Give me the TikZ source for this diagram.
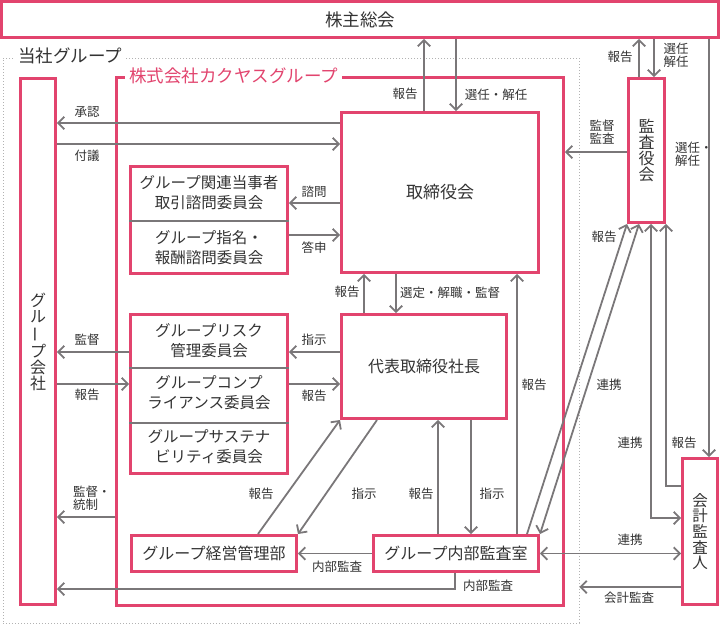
\documentclass[tikz,border=0pt]{standalone}
\usepackage{fontspec}
\setmainfont{Noto Sans CJK JP}
\usepackage{tikz}
\usetikzlibrary{arrows.meta,positioning,calc}
\definecolor{kPink}{RGB}{226,68,110}
\definecolor{kGray}{RGB}{122,119,121}
\definecolor{kText}{RGB}{51,51,51}
\newcommand{\vbar}{\rotatebox[origin=c]{90}{ー}}

\begin{document}
\begin{tikzpicture}[x=1pt, y=-1pt,
    box/.style={draw=kPink, line width=3pt, inner sep=0pt, text=kText, align=center},
    vbox/.style={box, font=\fontsize{16}{16}\selectfont},
    txt/.style={inner sep=0pt, text=kText, align=center, font=\fontsize{15.5}{20}\selectfont},
    lbl/.style={inner sep=0pt, text=kText, align=center, font=\fontsize{12.5}{13.5}\selectfont},
    arr/.style={draw=kGray, line width=1.8pt, -{Straight Barb[length=6pt,width=12.5pt]}},
    arrb/.style={arr, {Straight Barb[length=6pt,width=12.5pt]}-{Straight Barb[length=6pt,width=12.5pt]}},
    sep/.style={draw=kGray, line width=1.5pt}]
    \useasboundingbox (0,0) rectangle (720,625);

    % frames
    \node[draw=gray!60, dotted, line width=1pt, minimum width=576, minimum height=565, inner sep=0pt] (tousha) at (291,340.5) {};
    \node[fill=white, inner xsep=3pt, inner ysep=0pt, anchor=west, text=kText, font=\fontsize{17.5}{18}\selectfont] (tousha-l) at (15,56) {当社グループ};
    \node[box, minimum width=447, minimum height=528] (kakuyasu) at (340,341) {};
    \node[fill=white, inner xsep=4pt, inner ysep=0pt, anchor=west, text=kPink, font=\fontsize{17.5}{18}\selectfont] (kakuyasu-l) at (125,76) {株式会社カクヤスグループ};

    % boxes
    \node[box, minimum width=717, minimum height=36, font=\fontsize{17.5}{18}\selectfont] (soukai) at (360,19.5) {株主総会};
    \node[vbox, minimum width=35, minimum height=526] (kaisha) at (38,341.5) {グ\\ル\\\vbar\\プ\\会\\社};
    \node[box, minimum width=197, minimum height=160, font=\fontsize{17}{18}\selectfont] (torishimari) at (440,192.5) {取締役会};
    \node[box, minimum width=165, minimum height=104, font=\fontsize{16}{18}\selectfont] (shacho) at (424,366.5) {代表取締役社長};
    \node[box, minimum width=165, minimum height=36, font=\fontsize{16}{18}\selectfont] (keiei) at (214,553.5) {グループ経営管理部};
    \node[box, minimum width=165, minimum height=36, font=\fontsize{16}{18}\selectfont] (naibu) at (456,553.5) {グループ内部監査室};
    \node[vbox, minimum width=36, minimum height=144] (kansayaku) at (646.5,150.5) {監\\査\\役\\会};
    \node[vbox, minimum width=35, minimum height=146, font=\fontsize{15.5}{15.6}\selectfont] (kaikei) at (700,531.5) {会\\計\\監\\査\\人};

    % committees
    \node[box, minimum width=157, minimum height=107] (comA) at (209,220) {};
    \draw[sep] (comA.west |- 0,221) -- (comA.east |- 0,221);
    \node[txt] (kanren) at (209,193) {グループ関連当事者\\取引諮問委員会};
    \node[txt] (shimei) at (209,247.5) {グループ指名・\\報酬諮問委員会};
    \node[box, minimum width=157, minimum height=159] (comB) at (209,394) {};
    \draw[sep] (comB.west |- 0,368) -- (comB.east |- 0,368);
    \draw[sep] (comB.west |- 0,423) -- (comB.east |- 0,423);
    \node[txt] (risk) at (209,341) {グループリスク\\管理委員会};
    \node[txt] (compl) at (209,392.5) {グループコンプ\\ライアンス委員会};
    \node[txt] (sustain) at (209,447) {グループサステナ\\ビリティ委員会};

    % shareholders
    \draw[arr] (torishimari.north -| 424,0) -- (soukai.south -| 424,0);
    \node[lbl] (l-sh1) at (405,94) {報告};
    \draw[arr] (soukai.south -| 456,0) -- (torishimari.north -| 456,0);
    \node[lbl] (l-sh2) at (496,95) {選任・解任};
    \draw[arr] (kansayaku.north -| 639,0) -- (soukai.south -| 639,0);
    \node[lbl] (l-sh3) at (620,57) {報告};
    \draw[arr] (soukai.south -| 654,0) -- (kansayaku.north -| 654,0);
    \node[lbl, font=\fontsize{12.5}{13}\selectfont] (l-sh4) at (676,55) {選任\\解任};
    \draw[arr] (soukai.south -| 709,0) -- (kaikei.north -| 709,0);
    \node[lbl, align=left, anchor=west, font=\fontsize{12.5}{13}\selectfont] (l-sh5) at (675,154) {選任・\\解任};

    % board
    \draw[arr] (kansayaku.west |- 0,152) -- (kakuyasu.east |- 0,152);
    \node[lbl, font=\fontsize{12.5}{13}\selectfont] (l-kansa) at (602,132) {監督\\監査};
    \draw[arr] (torishimari.west |- 0,123) -- (kaisha.east |- 0,123);
    \node[lbl] (l-shonin) at (87,112) {承認};
    \draw[arr] (kaisha.east |- 0,144) -- (torishimari.west |- 0,144);
    \node[lbl] (l-fugi) at (87,156) {付議};
    \draw[arr] (torishimari.west |- 0,203) -- (comA.east |- 0,203);
    \node[lbl] (l-shimon) at (314,192) {諮問};
    \draw[arr] (comA.east |- 0,235) -- (torishimari.west |- 0,235);
    \node[lbl] (l-toshin) at (314,248) {答申};
    \draw[arr] (shacho.north -| 364,0) -- (torishimari.south -| 364,0);
    \node[lbl] (l-bd1) at (347,292) {報告};
    \draw[arr] (torishimari.south -| 396,0) -- (shacho.north -| 396,0);
    \node[lbl] (l-bd2) at (450,293) {選定・解職・監督};
    \draw[arr] (naibu.north -| 517,0) -- (torishimari.south -| 517,0);
    \node[lbl] (l-bd3) at (534,385) {報告};

    % president
    \draw[arr] (shacho.west |- 0,352) -- (comB.east |- 0,352);
    \node[lbl] (l-shiji1) at (314,340) {指示};
    \draw[arr] (comB.east |- 0,384) -- (shacho.west |- 0,384);
    \node[lbl] (l-pr1) at (314,396) {報告};
    \draw[arr] (comB.west |- 0,352) -- (kaisha.east |- 0,352);
    \node[lbl] (l-kantoku) at (87,340) {監督};
    \draw[arr] (kaisha.east |- 0,384) -- (comB.west |- 0,384);
    \node[lbl] (l-pr2) at (87,395) {報告};
    \draw[arr] (kakuyasu.west |- 0,517) -- (kaisha.east |- 0,517);
    \node[lbl, align=left, anchor=west, font=\fontsize{12.5}{13}\selectfont] (l-tosei) at (73,498) {監督・\\統制};
    \draw[arr] (keiei.north -| 258,0) -- (shacho.south west);
    \node[lbl] (l-pr3) at (261,494) {報告};
    \draw[arr] (shacho.south -| 377,0) -- (keiei.north east);
    \node[lbl] (l-shiji2) at (364,494) {指示};
    \draw[arr] (naibu.north -| 438,0) -- (shacho.south -| 438,0);
    \node[lbl] (l-pr4) at (421,494) {報告};
    \draw[arr] (shacho.south -| 471,0) -- (naibu.north -| 471,0);
    \node[lbl] (l-shiji3) at (492,494) {指示};

    % internal audit
    \draw[arr] (naibu.west) -- (keiei.east);
    \node[lbl] (l-ia1) at (337,567) {内部監査};
    \draw[arr] (naibu.south -| 455,0) |- (kaisha.east |- 0,589);
    \node[lbl] (l-ia2) at (488,586) {内部監査};

    % auditors
    \draw[arr] (naibu.north -| 527,0) -- (kansayaku.south west);
    \node[lbl] (l-au1) at (604,237) {報告};
    \draw[arrb] (kansayaku.south -| 639,0) -- (naibu.north east);
    \node[lbl] (l-au2) at (609,385) {連携};
    \draw[arrb] (kansayaku.south -| 651,0) |- (kaikei.west |- 0,518);
    \node[lbl] (l-au3) at (630,443) {連携};
    \draw[arr] (kaikei.west |- 0,486) -| (kansayaku.south east);
    \node[lbl] (l-au4) at (684,443) {報告};
    \draw[arrb] (naibu.east) -- (kaikei.west |- naibu.east);
    \node[lbl] (l-au5) at (630,540) {連携};
    \draw[arr] (kaikei.west |- 0,587) -- (tousha.east |- 0,587);
    \node[lbl] (l-au6) at (629,598) {会計監査};
  \end{tikzpicture}
\end{document}
